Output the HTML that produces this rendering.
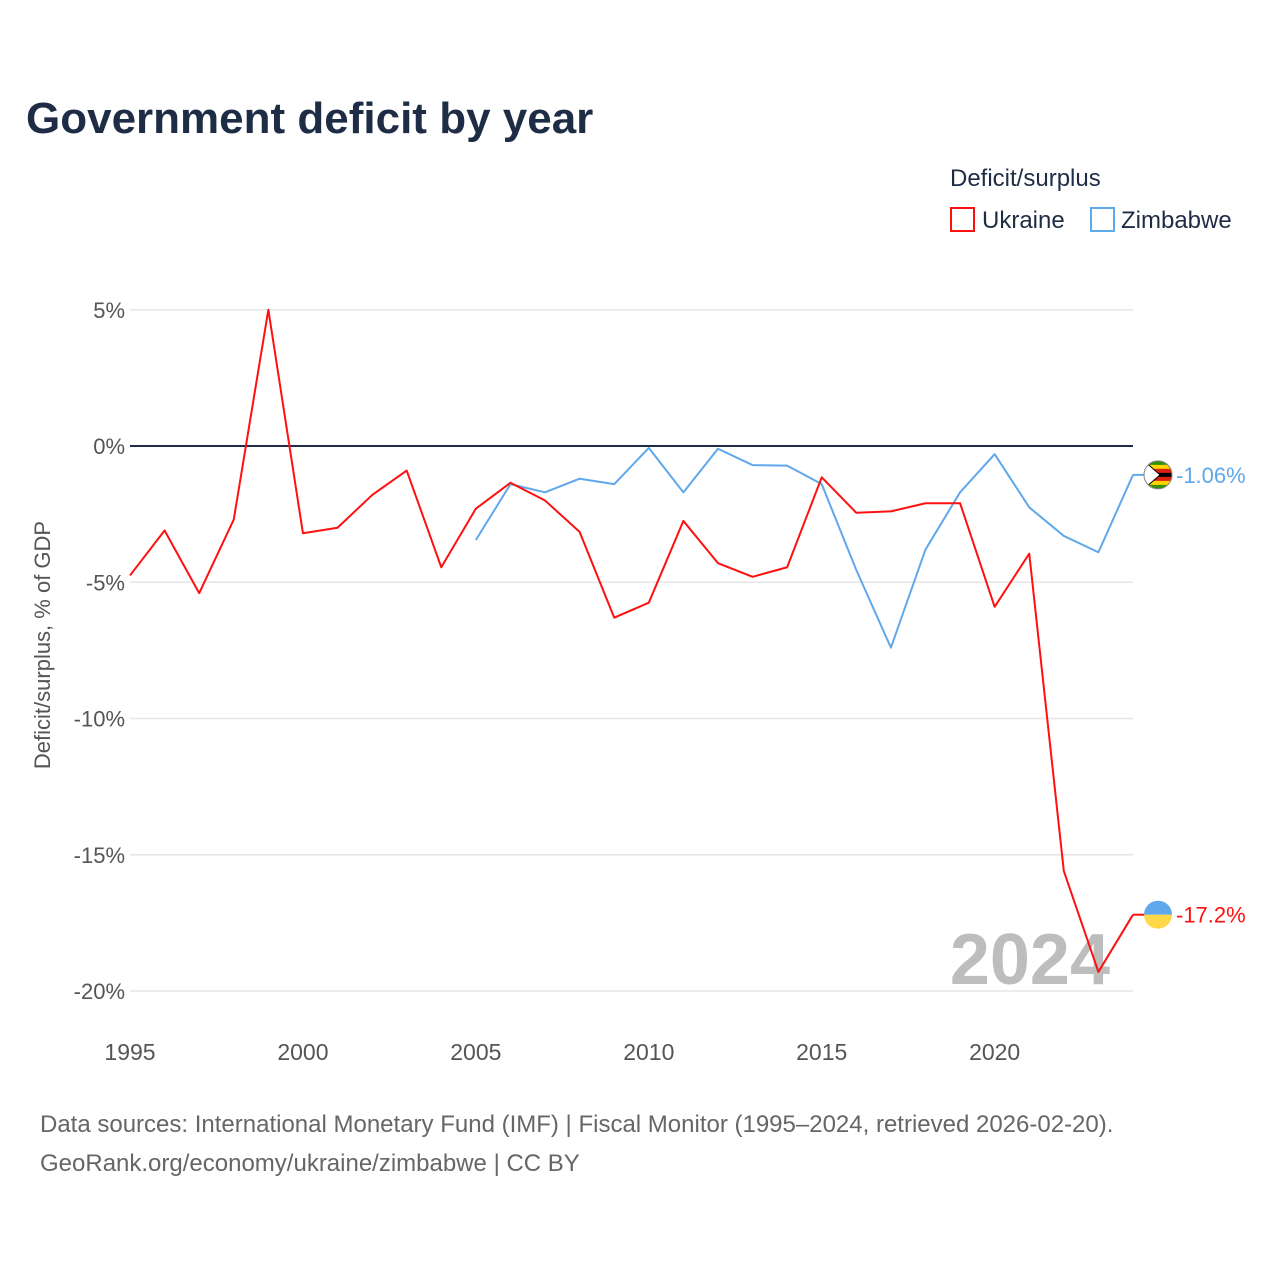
<!DOCTYPE html>
<html><head><meta charset="utf-8"><style>
body{margin:0;background:#fff;font-family:"Liberation Sans",sans-serif;}
svg text{font-family:"Liberation Sans",sans-serif;}
</style></head><body>
<svg width="1280" height="1280" xmlns="http://www.w3.org/2000/svg">
<text x="26" y="133" font-size="44" font-weight="bold" fill="#1e2d45">Government deficit by year</text>
<text x="950" y="186" font-size="24" fill="#1e2d45">Deficit/surplus</text>
<g><rect x="951" y="208" width="23" height="23" fill="none" stroke="#ff1010" stroke-width="2"/><text x="982" y="228" font-size="24" fill="#1e2d45">Ukraine</text></g>
<g><rect x="1091" y="208" width="23" height="23" fill="none" stroke="#5fa8ec" stroke-width="2"/><text x="1121" y="228" font-size="24" fill="#1e2d45">Zimbabwe</text></g>
<g id="grid"></g>
<text transform="translate(50,645) rotate(-90)" text-anchor="middle" font-size="22" fill="#555">Deficit/surplus, % of GDP</text>
<text x="1110" y="984" text-anchor="end" font-size="72" font-weight="bold" fill="#bdbdbd">2024</text>
<g id="series"></g>
<text x="40" y="1132" font-size="24" fill="#666">Data sources: International Monetary Fund (IMF) | Fiscal Monitor (1995–2024, retrieved 2026-02-20).</text>
<text x="40" y="1171" font-size="24" fill="#666">GeoRank.org/economy/ukraine/zimbabwe | CC BY</text>
</svg>
<script>
const years=[1995,1996,1997,1998,1999,2000,2001,2002,2003,2004,2005,2006,2007,2008,2009,2010,2011,2012,2013,2014,2015,2016,2017,2018,2019,2020,2021,2022,2023,2024];
const ukraine=[-4.75,-3.1,-5.4,-2.7,5.0,-3.2,-3.0,-1.8,-0.9,-4.45,-2.3,-1.35,-2.0,-3.15,-6.3,-5.75,-2.75,-4.3,-4.8,-4.45,-1.15,-2.45,-2.4,-2.1,-2.1,-5.9,-3.95,-15.6,-19.3,-17.2];
const zimYears=[2005,2006,2007,2008,2009,2010,2011,2012,2013,2014,2015,2016,2017,2018,2019,2020,2021,2022,2023,2024];
const zimbabwe=[-3.45,-1.4,-1.7,-1.2,-1.4,-0.07,-1.7,-0.1,-0.7,-0.72,-1.4,-4.55,-7.4,-3.8,-1.7,-0.3,-2.25,-3.3,-3.9,-1.06];
const yTicks=[5,0,-5,-10,-15,-20];
const xTicks=[1995,2000,2005,2010,2015,2020];
const NS="http://www.w3.org/2000/svg";
const x=v=>130+(v-1995)*(1133-130)/29;
const y=v=>446-v*27.25;
function mk(t,a,p){const e=document.createElementNS(NS,t);for(const k in a)e.setAttribute(k,a[k]);p.appendChild(e);return e;}
const g=document.getElementById('grid'),s=document.getElementById('series');
yTicks.forEach(t=>{
 const l=mk('line',{x1:130,x2:1133,y1:y(t),y2:y(t),stroke:t===0?'#1e2d45':'#e6e6e6','stroke-width':t===0?2:1.5},g);
 
 
 const tx=mk('text',{x:125,y:y(t)+8,'text-anchor':'end','font-size':22,fill:'#555'},g);tx.textContent=t+'%';
 
 
});
xTicks.forEach(t=>{
 const tx=mk('text',{x:x(t),y:1060,'text-anchor':'middle','font-size':23,fill:'#555'},g);tx.textContent=t;
 
 
});
function line(xs,vs,col,name){
 const p=mk('polyline',{points:xs.map((yr,i)=>x(yr)+','+y(vs[i])).join(' '),fill:'none',stroke:col,'stroke-width':2,'stroke-linejoin':'round'},s);
 
 
 const last=vs[vs.length-1],ly=y(last);
 mk('line',{x1:1133,x2:1145,y1:ly,y2:ly,stroke:col,'stroke-width':2},s);
 return ly;
}
const zy=line(zimYears,zimbabwe,'#5fa8ec','zimbabwe-line');
const uy=line(years,ukraine,'#ff1010','ukraine-line');
const zf=mk('g',{},s);


const cp=mk('clipPath',{id:'zc'},zf);
mk('circle',{cx:1158,cy:zy,r:14},cp);
const zg=mk('g',{'clip-path':'url(#zc)'},zf);
['#319208','#ffd200','#de2010','#000','#de2010','#ffd200','#319208'].forEach((c,i)=>mk('rect',{x:1144,y:zy-14+i*4,width:28,height:4.2,fill:c},zg));
mk('polygon',{points:`1144,${zy-14} 1160,${zy} 1144,${zy+14}`,fill:'#fff',stroke:'#000','stroke-width':1},zg);
mk('circle',{cx:1158,cy:zy,r:14,fill:'none',stroke:'#888','stroke-width':1},zf);
const uf=mk('g',{},s);


mk('path',{d:`M1144,${uy} a14,14 0 0 1 28,0 z`,fill:'#5fa8ec'},uf);
mk('path',{d:`M1144,${uy} a14,14 0 0 0 28,0 z`,fill:'#ffd84a'},uf);
[[zy,'-1.06%','#5fa8ec','zimbabwe-end-label'],[uy,'-17.2%','#ff1010','ukraine-end-label']].forEach(([yy,t,c,n])=>{
 const tx=mk('text',{x:1176,y:yy+8,'font-size':22,fill:c},s);tx.textContent=t;
 
 
});
</script>
</body></html>
